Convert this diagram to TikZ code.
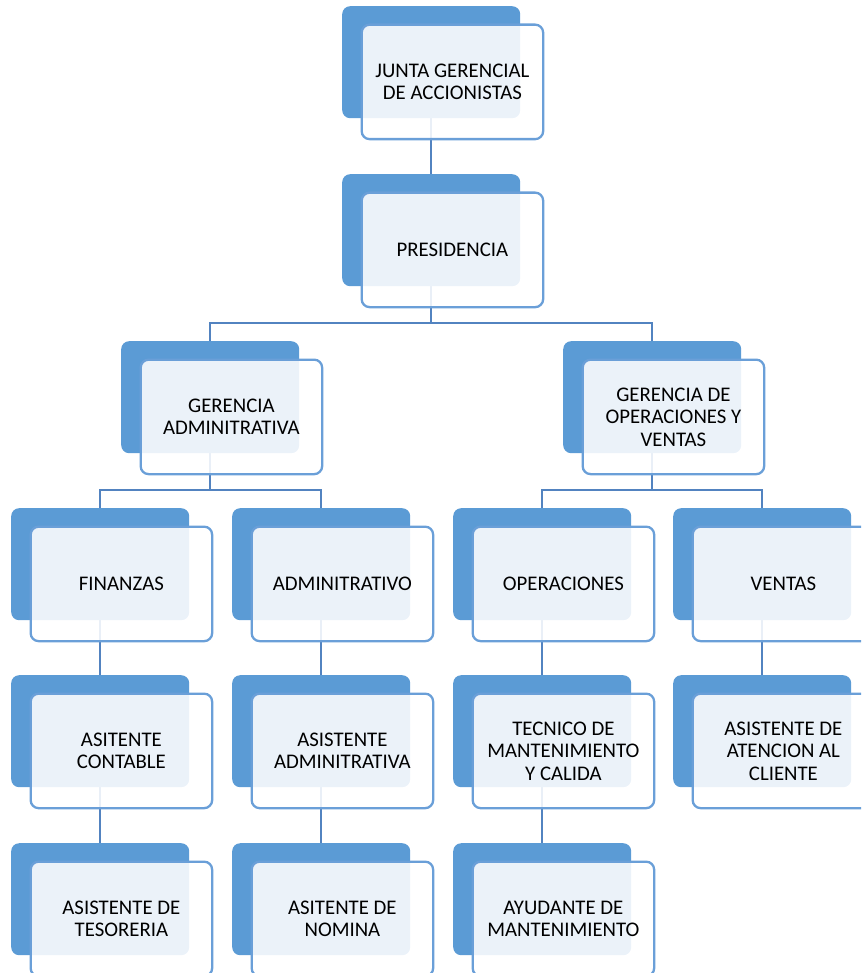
\documentclass[tikz,border=0pt]{standalone}
\usepackage{fontspec}
\setmainfont{Carlito}
\pgfdeclarelayer{bg}
\pgfsetlayers{bg,main}
\definecolor{backblue}{HTML}{5B9BD5}
\definecolor{frontline}{HTML}{6A9FD8}
\definecolor{linkblue}{HTML}{5283C0}
\tikzset{
  backbox/.style={rectangle, rounded corners=8pt, fill=backblue, draw=none,
    minimum width=178pt, minimum height=112pt, anchor=north west, inner sep=0pt},
  frontbox/.style={rectangle, rounded corners=8pt, fill=white, fill opacity=0.88, text opacity=1,
    draw=frontline, line width=2.3pt, minimum width=181.5pt, minimum height=114.5pt,
    anchor=north west, inner sep=0pt, align=center, text=black,
    font=\fontsize{20.8}{22.5}\selectfont},
  link/.style={draw=linkblue, line width=2.4pt}
}
\newcommand\orgunit[4]{%
  \node[backbox] (#1-back) at (#2,#3) {};
  \node[frontbox] (#1) at (#2+18.5,#3+17.5) {#4};
}
\begin{document}
\begin{tikzpicture}[x=1pt,y=-1pt]
\useasboundingbox (0,0) rectangle (861,973);
\clip (0,0) rectangle (861,973);
\orgunit{junta}{342}{6}{JUNTA GERENCIAL\\DE ACCIONISTAS}
\orgunit{pres}{342}{174}{PRESIDENCIA}
\orgunit{ga}{121}{341}{GERENCIA\\ADMINITRATIVA}
\orgunit{go}{563}{341}{GERENCIA DE\\OPERACIONES Y\\VENTAS}
\orgunit{fin}{11}{508}{FINANZAS}
\orgunit{adm}{232}{508}{ADMINITRATIVO}
\orgunit{ope}{453}{508}{OPERACIONES}
\orgunit{ven}{673}{508}{VENTAS}
\orgunit{ac}{11}{675}{ASITENTE\\CONTABLE}
\orgunit{aa}{232}{675}{ASISTENTE\\ADMINITRATIVA}
\orgunit{tec}{453}{675}{TECNICO DE\\MANTENIMIENTO\\Y CALIDA}
\orgunit{aac}{673}{675}{ASISTENTE DE\\ATENCION AL\\CLIENTE}
\orgunit{at}{11}{843}{ASISTENTE DE\\TESORERIA}
\orgunit{an}{232}{843}{ASITENTE DE\\NOMINA}
\orgunit{am}{453}{843}{AYUDANTE DE\\MANTENIMIENTO}
\begin{pgfonlayer}{bg}
  \draw[link] (junta-back.south) -- (pres-back.north);
  \draw[link] (pres-back.south) -- (pres-back.south |- 0,323) -| (ga-back.north);
  \draw[link] (pres-back.south |- 0,323) -| (go-back.north);
  \draw[link] (ga-back.south) -- (ga-back.south |- 0,490) -| (fin-back.north);
  \draw[link] (ga-back.south |- 0,490) -| (adm-back.north);
  \draw[link] (go-back.south) -- (go-back.south |- 0,490) -| (ope-back.north);
  \draw[link] (go-back.south |- 0,490) -| (ven-back.north);
  \draw[link] (fin-back.south) -- (ac-back.north);
  \draw[link] (adm-back.south) -- (aa-back.north);
  \draw[link] (ope-back.south) -- (tec-back.north);
  \draw[link] (ven-back.south) -- (aac-back.north);
  \draw[link] (ac-back.south) -- (at-back.north);
  \draw[link] (aa-back.south) -- (an-back.north);
  \draw[link] (tec-back.south) -- (am-back.north);
\end{pgfonlayer}
\end{tikzpicture}
\end{document}
